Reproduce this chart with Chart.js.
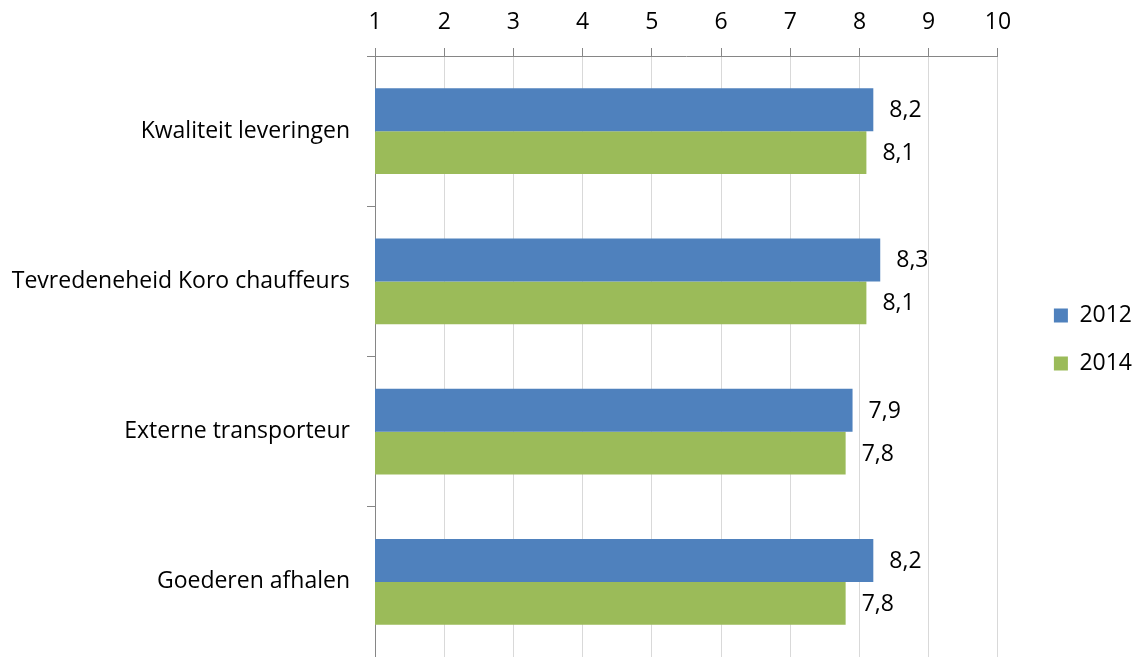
<!DOCTYPE html>
<html>
<head>
<meta charset="utf-8">
<script src="https://cdn.jsdelivr.net/npm/chart.js@4/dist/chart.umd.min.js"></script>
<style>
    html, body { margin: 0; padding: 0; background: #fff; }
    #wrap { width: 1133px; height: 657px; position: relative; }
</style>
</head>
<body>
<div id="wrap"><canvas id="myChart"></canvas></div>
<script>
// data
var categories = ["Kwaliteit leveringen", "Tevredeneheid Koro chauffeurs", "Externe transporteur", "Goederen afhalen"];
var seriesNames = ["2012", "2014"];
var values2012 = [8.2, 8.3, 7.9, 8.2];
var values2014 = [8.1, 8.1, 7.8, 7.8];
var tickMin = 1;
var tickMax = 10;
var tickStep = 1;

var fontFamily = "'Open Sans', Lato, sans-serif";
var fontSize = 23;

// writes the value (with a decimal comma) just past the end of every bar
var valueLabels = {
    id: 'valueLabels',
    afterDatasetsDraw: function (chart) {
        var ctx = chart.ctx;
        ctx.save();
        ctx.font = fontSize + "px " + fontFamily;
        ctx.fillStyle = "#000";
        ctx.textAlign = "left";
        ctx.textBaseline = "middle";
        chart.data.datasets.forEach(function (ds, i) {
            var meta = chart.getDatasetMeta(i);
            meta.data.forEach(function (bar, j) {
                var txt = ds.data[j].toFixed(1).replace(".", ",");
                ctx.fillText(txt, bar.x + 16, bar.y + 1);
            });
        });
        ctx.restore();
    }
};

// nudge the legend a bit further right and down from where the layout puts it
var legendShift = {
    id: 'legendShift',
    afterLayout: function (chart) {
        var lg = chart.legend;
        if (!lg) return;
        lg.left += 31;
        lg.right += 31;
        lg.top += 11;
        lg.bottom += 11;
    }
};

var ctx = document.getElementById("myChart").getContext("2d");
var myChart = new Chart(ctx, {
    type: "bar",
    data: {
        labels: categories,
        datasets: [{
            label: seriesNames[0],
            data: values2012,
            backgroundColor: "#4F81BD",
            categoryPercentage: 0.572,
            barPercentage: 1
        }, {
            label: seriesNames[1],
            data: values2014,
            backgroundColor: "#9BBB59",
            categoryPercentage: 0.572,
            barPercentage: 1
        }]
    },
    options: {
        indexAxis: "y",
        responsive: true,
        maintainAspectRatio: false,
        animation: false,
        layout: { padding: { left: 0, top: 0, bottom: 0, right: 22 } },
        font: { family: fontFamily, size: fontSize },
        plugins: {
            tooltip: { enabled: false },
            legend: {
                position: "right",
                labels: {
                    boxWidth: 14,
                    boxHeight: 14,
                    padding: 25,
                    color: "#000",
                    font: { family: fontFamily, size: fontSize }
                }
            }
        },
        scales: {
            x: {
                position: "top",
                min: tickMin,
                max: tickMax,
                afterFit: function (scale) {
                    scale.height = 56;
                    scale.paddingLeft = 0;
                    scale.paddingRight = 0;
                },
                ticks: {
                    stepSize: tickStep,
                    color: "#000",
                    padding: 12,
                    font: { family: fontFamily, size: fontSize }
                },
                grid: {
                    color: "#D9D9D9",
                    tickColor: "#868686",
                    tickLength: 8,
                    lineWidth: 1
                },
                border: { color: "#868686", width: 1 }
            },
            y: {
                afterFit: function (scale) {
                    scale.width = 375;
                    scale.paddingTop = 0;
                    scale.paddingBottom = 0;
                },
                ticks: {
                    color: "#000",
                    padding: 17,
                    font: { family: fontFamily, size: fontSize }
                },
                grid: {
                    drawOnChartArea: false,
                    tickColor: "#868686",
                    tickLength: 8
                },
                border: { color: "#868686", width: 1 }
            }
        }
    },
    plugins: [valueLabels, legendShift]
});
</script>
</body>
</html>
